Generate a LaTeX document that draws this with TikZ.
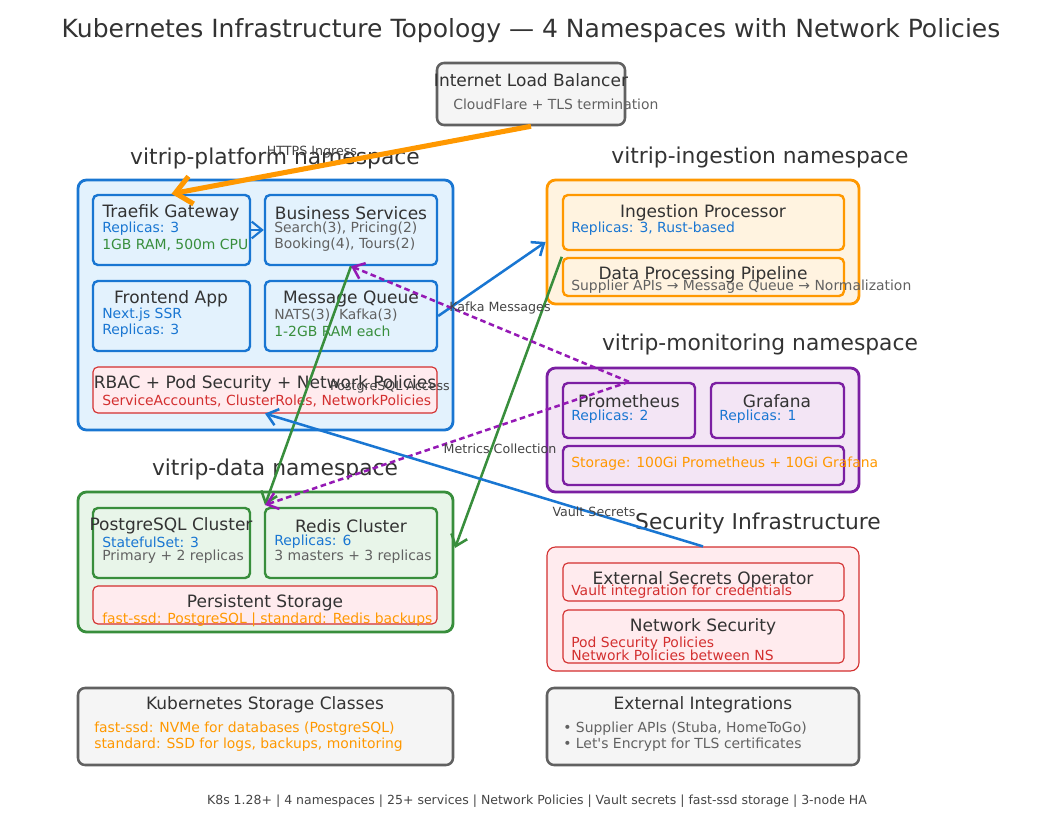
\documentclass[tikz,border=0pt]{standalone}
\usepackage{fontspec}
\setmainfont{DejaVu Sans}
\usetikzlibrary{positioning,arrows.meta,fit,calc}
\definecolor{txtdark}{HTML}{333333}
\definecolor{txtgray}{HTML}{616161}
\definecolor{lblgray}{HTML}{444444}
\definecolor{kblue}{HTML}{1976D2}
\definecolor{kbluefill}{HTML}{E3F2FD}
\definecolor{korange}{HTML}{FF9800}
\definecolor{korangefill}{HTML}{FFF3E0}
\definecolor{kpurple}{HTML}{7B1FA2}
\definecolor{kpurplefill}{HTML}{F3E5F5}
\definecolor{kgreen}{HTML}{388E3C}
\definecolor{kgreenfill}{HTML}{E8F5E9}
\definecolor{kred}{HTML}{D32F2F}
\definecolor{kredfill}{HTML}{FFEBEE}
\definecolor{kgrayfill}{HTML}{F5F5F5}
\tikzset{
  nsbox/.style={draw, rounded corners=6pt, line width=2pt, inner sep=0pt},
  podbox/.style={draw, rounded corners=3.5pt, line width=1.7pt, inner sep=0pt},
  thinbox/.style={draw=kred, fill=kredfill, rounded corners=3.5pt, line width=0.8pt, inner sep=0pt},
  infobox/.style={draw=txtgray, fill=kgrayfill, rounded corners=5pt, line width=1.8pt, inner sep=0pt},
  figtitle/.style={font=\fontsize{17.8}{21}\selectfont, text=txtdark, inner sep=0pt},
  nslabel/.style={font=\fontsize{15.5}{18}\selectfont, text=txtdark, inner sep=0pt},
  podtitle/.style={font=\fontsize{12.1}{14}\selectfont, text=txtdark, inner sep=0pt},
  poddetail/.style={font=\fontsize{9.9}{11}\selectfont, anchor=west, inner sep=0pt},
  flowlabel/.style={font=\fontsize{9}{11}\selectfont, text=lblgray, inner sep=0pt},
  flowarrow/.style={-{Straight Barb[length=2.6mm,width=4.2mm]}, line width=1.8pt},
}

\begin{document}
\begin{tikzpicture}[x=0.025cm, y=-0.025cm]
  \useasboundingbox (0,0) rectangle (1063,813);
  \node[figtitle] (title) at (531,31) {Kubernetes Infrastructure Topology — 4 Namespaces with Network Policies};

  % load balancer
  \node[infobox, fit={(437,63) (625,125)}] (lb) {};
  \node[podtitle] (lb-t) at (531,80) {Internet Load Balancer};
  \node[poddetail, text=txtgray] (lb-1) at (453,104) {CloudFlare + TLS termination};

  % vitrip-platform
  \node[nslabel] (plat-l) at (275,158) {vitrip-platform namespace};
  \node[nsbox, draw=kblue, fill=kbluefill, fit={(78,180) (453,430)}] (platns) {};
  \node[podbox, draw=kblue, fill=kbluefill, fit={(93,195) (250,265)}] (traefik) {};
  \node[podbox, draw=kblue, fill=kbluefill, fit={(265,195) (437,265)}] (biz) {};
  \node[podbox, draw=kblue, fill=kbluefill, fit={(93,281) (250,351)}] (front) {};
  \node[podbox, draw=kblue, fill=kbluefill, fit={(265,281) (437,351)}] (mq) {};
  \node[thinbox, fit={(93,367) (437,413)}] (rbac) {};
  \node[podtitle] (traefik-t) at (171,213) {Traefik Gateway};
  \node[poddetail, text=kblue] (traefik-1) at (102,229) {Replicas: 3};
  \node[poddetail, text=kgreen] (traefik-2) at (102,245) {1GB RAM, 500m CPU};
  \node[podtitle] (biz-t) at (351,213) {Business Services};
  \node[poddetail, text=txtgray] (biz-1) at (274,229) {Search(3), Pricing(2)};
  \node[poddetail, text=txtgray] (biz-2) at (274,245) {Booking(4), Tours(2)};
  \node[podtitle] (front-t) at (171,299) {Frontend App};
  \node[poddetail, text=kblue] (front-1) at (102,315) {Next.js SSR};
  \node[poddetail, text=kblue] (front-2) at (102,331) {Replicas: 3};
  \node[podtitle] (mq-t) at (351,299) {Message Queue};
  \node[poddetail, text=txtgray] (mq-1) at (274,315) {NATS(3), Kafka(3)};
  \node[poddetail, text=kgreen] (mq-2) at (274,331) {1-2GB RAM each};
  \node[podtitle] (rbac-t) at (265,384) {RBAC + Pod Security + Network Policies};
  \node[poddetail, text=kred] (rbac-1) at (102,401) {ServiceAccounts, ClusterRoles, NetworkPolicies};

  % vitrip-ingestion
  \node[nslabel] (ing-l) at (760,157) {vitrip-ingestion namespace};
  \node[nsbox, draw=korange, fill=korangefill, fit={(547,180) (859,304)}] (ingns) {};
  \node[podbox, draw=korange, fill=korangefill, fit={(563,195) (844,250)}] (proc) {};
  \node[podbox, draw=korange, fill=korangefill, fit={(563,258) (844,296)}] (pipe) {};
  \node[podtitle] (proc-t) at (703,213) {Ingestion Processor};
  \node[poddetail, text=kblue] (proc-1) at (571,229) {Replicas: 3, Rust-based};
  \node[podtitle] (pipe-t) at (703,275) {Data Processing Pipeline};
  \node[poddetail, text=txtgray] (pipe-1) at (571,287) {Supplier APIs → Message Queue → Normalization};

  % vitrip-monitoring
  \node[nslabel] (mon-l) at (760,344) {vitrip-monitoring namespace};
  \node[nsbox, draw=kpurple, fill=kpurplefill, fit={(547,368) (859,492)}] (monns) {};
  \node[podbox, draw=kpurple, fill=kpurplefill, fit={(563,383) (695,438)}] (prom) {};
  \node[podbox, draw=kpurple, fill=kpurplefill, fit={(711,383) (844,438)}] (graf) {};
  \node[podbox, draw=kpurple, fill=kpurplefill, fit={(563,446) (844,485)}] (monstore) {};
  \node[podtitle] (prom-t) at (629,401) {Prometheus};
  \node[poddetail, text=kblue] (prom-1) at (571,417) {Replicas: 2};
  \node[podtitle] (graf-t) at (777,401) {Grafana};
  \node[poddetail, text=kblue] (graf-1) at (719,417) {Replicas: 1};
  \node[poddetail, text=korange] (monstore-1) at (571,464) {Storage: 100Gi Prometheus + 10Gi Grafana};

  % vitrip-data
  \node[nslabel] (data-l) at (275,469) {vitrip-data namespace};
  \node[nsbox, draw=kgreen, fill=kgreenfill, fit={(78,492) (453,632)}] (datans) {};
  \node[podbox, draw=kgreen, fill=kgreenfill, fit={(93,508) (250,578)}] (pg) {};
  \node[podbox, draw=kgreen, fill=kgreenfill, fit={(265,508) (437,578)}] (redis) {};
  \node[thinbox, fit={(93,586) (437,624)}] (pvc) {};
  \node[podtitle] (pg-t) at (171,526) {PostgreSQL Cluster};
  \node[poddetail, text=kblue] (pg-1) at (102,542) {StatefulSet: 3};
  \node[poddetail, text=txtgray] (pg-2) at (102,557) {Primary + 2 replicas};
  \node[podtitle] (redis-t) at (351,526) {Redis Cluster};
  \node[poddetail, text=kblue] (redis-1) at (274,542) {Replicas: 6};
  \node[poddetail, text=txtgray] (redis-2) at (274,557) {3 masters + 3 replicas};
  \node[podtitle] (pvc-t) at (265,603) {Persistent Storage};
  \node[poddetail, text=korange] (pvc-1) at (102,620) {fast-ssd: PostgreSQL | standard: Redis backups};

  % security
  \node[nslabel] (sec-l) at (758,523) {Security Infrastructure};
  \node[thinbox, rounded corners=6pt, fit={(547,547) (859,671)}] (secns) {};
  \node[thinbox, fit={(563,563) (844,601)}] (eso) {};
  \node[thinbox, fit={(563,610) (844,663)}] (netsec) {};
  \node[podtitle] (eso-t) at (703,580) {External Secrets Operator};
  \node[poddetail, text=kred] (eso-1) at (571,592) {Vault integration for credentials};
  \node[podtitle] (netsec-t) at (703,627) {Network Security};
  \node[poddetail, text=kred] (netsec-1) at (571,644) {Pod Security Policies};
  \node[poddetail, text=kred] (netsec-2) at (571,655) {Network Policies between NS};

  % bottom info boxes
  \node[infobox, fit={(78,688) (453,765)}] (sclass) {};
  \node[podtitle] (sclass-t) at (265,705) {Kubernetes Storage Classes};
  \node[poddetail, text=korange] (sclass-1) at (94,729) {fast-ssd: NVMe for databases (PostgreSQL)};
  \node[poddetail, text=korange] (sclass-2) at (94,745) {standard: SSD for logs, backups, monitoring};
  \node[infobox, fit={(547,688) (859,765)}] (extint) {};
  \node[podtitle] (extint-t) at (703,705) {External Integrations};
  \node[poddetail, text=txtgray] (extint-1) at (563,729) {• Supplier APIs (Stuba, HomeToGo)};
  \node[poddetail, text=txtgray] (extint-2) at (563,745) {• Let\textquotesingle s Encrypt for TLS certificates};

  % connections
  \coordinate (pgin) at (265,505);
  \coordinate (datain) at (455,548);
  \draw[flowarrow, korange, line width=3.6pt, -{Straight Barb[length=4mm,width=7mm]}] (lb.south) -- (traefik.north);
  \draw[flowarrow, kblue, line width=1.5pt] (traefik.east) -- (biz.west);
  \draw[flowarrow, kblue] (mq.east) -- (ingns.west);
  \draw[flowarrow, kgreen] (biz.south) -- (pgin);
  \draw[flowarrow, kgreen] (pipe.north west) -- (datain);
  \draw[flowarrow, kpurple!80!magenta, dash pattern=on 4pt off 2.5pt] (prom.north) -- (biz.south);
  \draw[flowarrow, kpurple!80!magenta, dash pattern=on 4pt off 2.5pt] (prom.north) -- (pgin);
  \draw[flowarrow, kblue] (secns.north) -- (rbac.south);
  \node[flowlabel] (ingress-l) at (312,152) {HTTPS Ingress};
  \node[flowlabel] (kafka-l) at (500,308) {Kafka Messages};
  \node[flowlabel] (pgacc-l) at (390,387) {PostgreSQL Access};
  \node[flowlabel] (metrics-l) at (500,449) {Metrics Collection};
  \node[flowlabel] (vault-l) at (594,512) {Vault Secrets};

  \node[flowlabel, font=\fontsize{8.9}{10}\selectfont] (footer) at (537,801) {K8s 1.28+ | 4 namespaces | 25+ services | Network Policies | Vault secrets | fast-ssd storage | 3-node HA};
\end{tikzpicture}
\end{document}
